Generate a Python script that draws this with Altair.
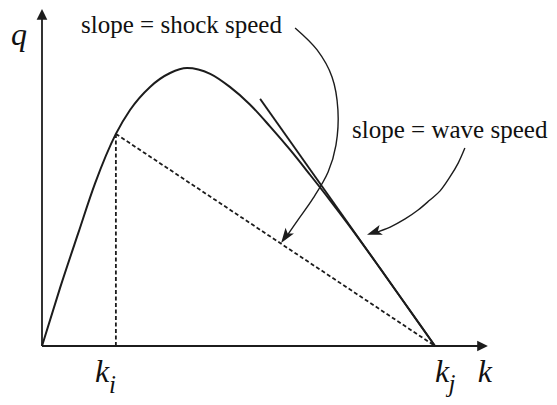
import altair as alt
import pandas as pd

# ---- data (k_j = 100, q_max = 100) ----
k_curve = [0, 4.6, 9.2, 13.5, 18.8, 22.4, 27.5, 32.6, 36.9, 42.8, 47.8, 52.9,
           58.0, 63.1, 68.2, 73.3, 77.6, 86.0, 93.6, 100]
q_curve = [0, 20.9, 40.5, 58.5, 76.3, 84.9, 93.2, 98.2, 100, 97.9, 93.2, 86.9,
           79.0, 70.6, 61.6, 52.4, 44.4, 28.0, 12.8, 0]

k_i, q_i = 18.8, 76.3
k_j = 100

tangent_k = [55.5, 100]
tangent_q = [88.9, 0]

axis_seg = ["y", "y", "x", "x"]
axis_k = [0, 0, 0, 111]
axis_q = [0, 118, 0, 0]
axis_head_k = [0, 112.1]
axis_head_q = [119.3, 0]
axis_head_angle = [0, 90]

shock_arc_k = [64.4, 70.0, 73.8, 75.3, 74.8, 72.8, 69.0, 65.1, 62.1]
shock_arc_q = [114.4, 106.5, 96.8, 84.9, 72.3, 62.6, 53.2, 45.3, 39.2]
wave_arc_k = [107.6, 105.9, 103.8, 101.3, 98.7, 95.7, 92.4, 88.6, 84.5]
wave_arc_q = [71.2, 65.8, 60.8, 55.8, 52.5, 48.9, 45.7, 42.8, 40.7]
head_k = [62.0, 84.6]
head_q = [39.4, 40.9]
head_angle = [215, 251]

shock_note = "slope = shock speed"
wave_note = "slope = wave speed"
shock_note_pos = (35.5, 112.6)
wave_note_pos = (128.6, 74.8)

label_text = ["q", "k", "k", "k"]
label_k = [-5.85, 112.7, 15.3, 101.8]
label_q = [108.3, -13.0, -13.0, -13.0]
sub_text = ["i", "j"]
sub_k = [17.9, 104.3]
sub_q = [-16.8, -16.4]

# ---- scales ----
xs = alt.Scale(domain=[-8.651, 129.008], nice=False, zero=False)
ys = alt.Scale(domain=[-18.345, 121.583], nice=False, zero=False)
X = alt.X("k:Q", scale=xs, axis=None)
Y = alt.Y("q:Q", scale=ys, axis=None)
INK = "#1c1c1c"

curve = alt.Chart(pd.DataFrame({"k": k_curve, "q": q_curve})).mark_line(
    color=INK, strokeWidth=2, interpolate="monotone").encode(x=X, y=Y)

tangent = alt.Chart(pd.DataFrame({"k": tangent_k, "q": tangent_q})).mark_line(
    color=INK, strokeWidth=1.8).encode(x=X, y=Y)

shock = alt.Chart(pd.DataFrame({"k": [k_i, k_j], "q": [q_i, 0]})).mark_line(
    color=INK, strokeWidth=1.8, strokeDash=[4, 2.5]).encode(x=X, y=Y)

vert = alt.Chart(pd.DataFrame({"k": [k_i, k_i], "q": [0, q_i]})).mark_line(
    color=INK, strokeWidth=1.8, strokeDash=[4, 2.5]).encode(x=X, y=Y)

axes = alt.Chart(pd.DataFrame({"seg": axis_seg, "k": axis_k, "q": axis_q,
                               "i": list(range(4))})).mark_line(
    color=INK, strokeWidth=1.8).encode(x=X, y=Y, detail="seg:N", order="i:Q")

axis_heads = alt.Chart(pd.DataFrame({"k": axis_head_k, "q": axis_head_q,
                                     "a": axis_head_angle})).mark_point(
    shape="M0,-1L1,1L-1,1Z", filled=True, size=114, color=INK, opacity=1,
    strokeWidth=0).encode(x=X, y=Y, angle=alt.Angle("a:Q", scale=None))

arc_df = pd.DataFrame({
    "arc": ["s"] * len(shock_arc_k) + ["w"] * len(wave_arc_k),
    "k": shock_arc_k + wave_arc_k,
    "q": shock_arc_q + wave_arc_q,
    "i": list(range(len(shock_arc_k))) + list(range(len(wave_arc_k))),
})
arcs = alt.Chart(arc_df).mark_line(
    color=INK, strokeWidth=1.4, interpolate="catmull-rom").encode(
    x=X, y=Y, detail="arc:N", order="i:Q")

heads = alt.Chart(pd.DataFrame({"k": head_k, "q": head_q, "a": head_angle})).mark_point(
    shape="M0,-1L0.65,0.9L0,0.45L-0.65,0.9Z", filled=True, size=250, color=INK,
    opacity=1, strokeWidth=0).encode(x=X, y=Y, angle=alt.Angle("a:Q", scale=None))

note_style = dict(font="Liberation Serif", fontSize=25, baseline="alphabetic",
                  color="#111")
shock_txt = alt.Chart(pd.DataFrame({"t": [shock_note], "k": [shock_note_pos[0]],
                                    "q": [shock_note_pos[1]]})).mark_text(
    align="center", **note_style).encode(x=X, y=Y, text="t:N")
wave_txt = alt.Chart(pd.DataFrame({"t": [wave_note], "k": [wave_note_pos[0]],
                                   "q": [wave_note_pos[1]]})).mark_text(
    align="right", **note_style).encode(x=X, y=Y, text="t:N")

labels = alt.Chart(pd.DataFrame({"t": label_text, "k": label_k, "q": label_q})).mark_text(
    font="Liberation Serif", fontStyle="italic", fontSize=32, align="center",
    baseline="alphabetic", color="#111").encode(x=X, y=Y, text="t:N")

subs = alt.Chart(pd.DataFrame({"t": sub_text, "k": sub_k, "q": sub_q})).mark_text(
    font="Liberation Serif", fontStyle="italic", fontSize=25, align="center",
    baseline="alphabetic", color="#111").encode(x=X, y=Y, text="t:N")

chart = alt.layer(axes, axis_heads, vert, shock, curve, tangent, arcs, heads,
                  shock_txt, wave_txt, labels, subs).properties(
    width=541, height=389, padding=0,
    autosize=alt.AutoSizeParams(type="none"),
).configure_view(stroke=None)

chart.save("out.html", embed_options={"renderer": "svg", "actions": False})
